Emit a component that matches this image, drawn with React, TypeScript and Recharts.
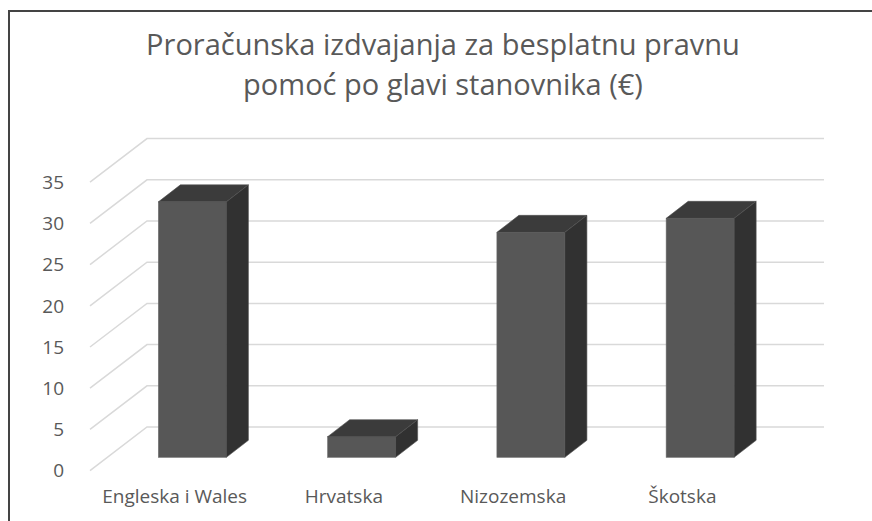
import React from 'react';
import { BarChart, Bar, XAxis, YAxis, CartesianGrid } from 'recharts';

const categories = ['Engleska i Wales', 'Hrvatska', 'Nizozemska', 'Škotska'];
const values = [31, 2.5, 27.3, 29];
const yTicks = [0, 5, 10, 15, 20, 25, 30, 35];

const data = categories.map((name, i) => ({ name, value: values[i] }));

// 3d look: back wall offset and bar depth
const WALL_DX = 57;
const WALL_DY = -43.6;
const BAR_SHIFT_X = 17.4;
const BAR_SHIFT_Y = -13.3;
const BAR_DX = 22;
const BAR_DY = -17;

const TEXT = '#595959';
const FONT = '"Open Sans", sans-serif';

const GridLine3D = (props: any) => {
  const { x1, y1, x2 } = props;
  const bx = x1 + WALL_DX;
  const by = y1 + WALL_DY;
  return (
    <path
      key={props.key ?? `g-${props.index}`}
      d={`M${x1},${y1} L${bx},${by} L${x2 + WALL_DX},${by}`}
      fill="none"
      stroke="#d9d9d9"
      strokeWidth={1.5}
    />
  );
};

const Bar3D = (props: any) => {
  const { x, y, width, height } = props;
  const fx = x + BAR_SHIFT_X;
  const fy = y + BAR_SHIFT_Y;
  const top = `${fx},${fy} ${fx + BAR_DX},${fy + BAR_DY} ${fx + width + BAR_DX},${fy + BAR_DY} ${fx + width},${fy}`;
  const side = `${fx + width},${fy} ${fx + width + BAR_DX},${fy + BAR_DY} ${fx + width + BAR_DX},${fy + height + BAR_DY} ${fx + width},${fy + height}`;
  return (
    <g>
      <rect x={fx} y={fy} width={width} height={height} fill="#575757" stroke="#6a6a6a" strokeWidth={0.6} />
      <polygon points={top} fill="#3b3b3b" stroke="#505050" strokeWidth={0.6} />
      <polygon points={side} fill="#313131" stroke="#505050" strokeWidth={0.6} />
    </g>
  );
};

export default function App() {
  return (
    <div style={{ position: 'fixed', left: 0, top: 0, width: 872, height: 521, background: '#fff', overflow: 'hidden' }}>
      <div
        style={{
          position: 'absolute',
          left: 8,
          top: 10,
          width: 900,
          height: 600,
          borderLeft: '2px solid #444',
          borderTop: '2px solid #444',
        }}
      />
      <div
        style={{
          position: 'absolute',
          left: 0,
          top: 24,
          width: 886,
          textAlign: 'center',
          fontFamily: FONT,
          fontSize: 29,
          lineHeight: '40px',
          color: TEXT,
        }}
      >
        Proračunska izdvajanja za besplatnu pravnu
        <br />
        pomoć po glavi stanovnika (€)
      </div>
      <div style={{ position: 'absolute', left: 0, top: 0 }}>
        <BarChart
          width={872}
          height={521}
          data={data}
          margin={{ top: 182.2, right: 105, bottom: 20.4, left: 0 }}
          barSize={68}
        >
          <CartesianGrid vertical={false} horizontal={GridLine3D} />
          <XAxis
            dataKey="name"
            axisLine={false}
            tickLine={false}
            tickSize={0}
            tickMargin={19}
            height={30}
            interval={0}
            tick={{ fill: TEXT, fontSize: 19, fontFamily: FONT }}
          />
          <YAxis
            type="number"
            domain={[0, 35]}
            ticks={yTicks}
            width={90}
            axisLine={false}
            tickLine={false}
            tickSize={0}
            tickMargin={26}
            tick={{ fill: TEXT, fontSize: 19, fontFamily: FONT }}
          />
          <Bar dataKey="value" shape={Bar3D} isAnimationActive={false} />
        </BarChart>
      </div>
    </div>
  );
}
